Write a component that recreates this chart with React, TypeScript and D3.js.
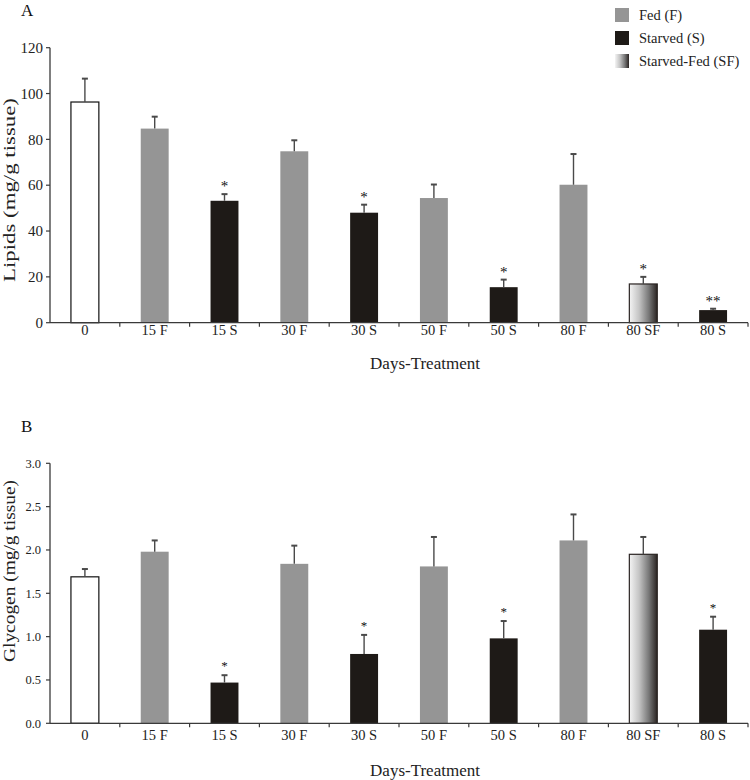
import React from 'react';
import * as d3 from 'd3';

const categories = ['0', '15 F', '15 S', '30 F', '30 S', '50 F', '50 S', '80 F', '80 SF', '80 S'];
const groups = ['control', 'fed', 'starved', 'fed', 'starved', 'fed', 'starved', 'fed', 'sf', 'starved'];

const lipidMeans = [96.3, 84.7, 53.2, 74.8, 48.0, 54.4, 15.5, 60.2, 16.9, 5.5];
const lipidErr = [10.2, 5.2, 2.9, 4.8, 3.5, 5.9, 3.3, 13.4, 3.1, 0.6];
const lipidSig = ['', '', '*', '', '*', '', '*', '', '*', '**'];
const lipidTicks = [0, 20, 40, 60, 80, 100, 120];

const glyMeans = [1.69, 1.98, 0.47, 1.84, 0.8, 1.81, 0.98, 2.11, 1.95, 1.08];
const glyErr = [0.09, 0.13, 0.085, 0.21, 0.22, 0.34, 0.2, 0.3, 0.2, 0.15];
const glySig = ['', '', '*', '', '*', '', '*', '', '', '*'];
const glyTicks = [0, 0.5, 1.0, 1.5, 2.0, 2.5, 3.0];

const legendLabels = ['Fed (F)', 'Starved (S)', 'Starved-Fed (SF)'];
const legendGroups = ['fed', 'starved', 'sf'];

const FONT = '"Liberation Serif", "Times New Roman", serif';
const FED = '#959595';
const STARVED = '#1e1a17';
const AXIS = '#3a3a3a';
const ERR = '#4a4a4a';

function fillFor(g: string) {
  if (g === 'fed') return FED;
  if (g === 'starved') return STARVED;
  if (g === 'sf') return 'url(#sfGrad)';
  return '#ffffff';
}

type PanelProps = {
  means: number[];
  errs: number[];
  sig: string[];
  ticks: number[];
  domainMax: number;
  yTop: number;
  yBottom: number;
  tickFmt: (v: number) => string;
  tickFont: number;
  tickX: number;
  yTitle: string;
  yTitleCenter: number;
  yTitleLen: number;
  catBaseline: number;
  xTitleBaseline: number;
  starFont: number;
  starGap: number;
  letter: string;
  letterBaseline: number;
};

function Panel(p: PanelProps) {
  const x = d3.scaleBand<string>().domain(categories).range([50, 748]).paddingInner(0.6).paddingOuter(0.3);
  const y = d3.scaleLinear().domain([0, p.domainMax]).range([p.yBottom, p.yTop]);
  const step = x.step();
  const bw = x.bandwidth();
  const x0 = x.range()[0];
  const boundaries = d3.range(1, categories.length + 1).map((k) => x0 + k * step);
  return (
    <g>
      <text x={21} y={p.letterBaseline} fontFamily={FONT} fontSize={17} fill="#111">{p.letter}</text>
      {categories.map((c, i) => {
        const g = groups[i];
        const top = y(p.means[i]);
        const stroke = g === 'control' ? '#111' : g === 'sf' ? '#2a2422' : 'none';
        return (
          <rect key={c} x={x(c)} y={top} width={bw} height={y(0) - top} fill={fillFor(g)}
            stroke={stroke} strokeWidth={g === 'control' || g === 'sf' ? 1.2 : 0} />
        );
      })}
      {categories.map((c, i) => {
        const cx = (x(c) as number) + bw / 2;
        const top = y(p.means[i]);
        const et = y(p.means[i] + p.errs[i]);
        return (
          <g key={'e' + c}>
            <line x1={cx} x2={cx} y1={top} y2={et} stroke={ERR} strokeWidth={1.4} />
            <line x1={cx - 3} x2={cx + 3} y1={et} y2={et} stroke={ERR} strokeWidth={2} />
            {p.sig[i] ? (
              <text x={cx} y={et - p.starGap} textAnchor="middle" fontFamily={FONT} fontSize={p.starFont} fill="#111">{p.sig[i]}</text>
            ) : null}
          </g>
        );
      })}
      <line x1={50} x2={50} y1={p.yTop} y2={p.yBottom} stroke={AXIS} strokeWidth={1.3} />
      {p.ticks.map((t) => (
        <g key={'t' + t}>
          <line x1={46} x2={50} y1={y(t)} y2={y(t)} stroke={AXIS} strokeWidth={1.2} />
          <text x={p.tickX} y={y(t)} dy="0.35em" textAnchor="end" fontFamily={FONT} fontSize={p.tickFont} fill="#222">{p.tickFmt(t)}</text>
        </g>
      ))}
      <line x1={50} x2={748} y1={p.yBottom} y2={p.yBottom} stroke={AXIS} strokeWidth={1.3} />
      {boundaries.map((b, k) => (
        <line key={'b' + k} x1={b} x2={b} y1={p.yBottom} y2={p.yBottom + 4} stroke={AXIS} strokeWidth={1.2} />
      ))}
      {categories.map((c) => (
        <text key={'l' + c} x={(x(c) as number) + bw / 2} y={p.catBaseline} textAnchor="middle" fontFamily={FONT} fontSize={14.5} fill="#222">{c}</text>
      ))}
      <text x={425} y={p.xTitleBaseline} textAnchor="middle" fontFamily={FONT} fontSize={17} fill="#222">Days-Treatment</text>
      <text transform={`translate(15,${p.yTitleCenter}) rotate(-90)`} textAnchor="middle" fontFamily={FONT} fontSize={17}
        fill="#222" textLength={p.yTitleLen} lengthAdjust="spacingAndGlyphs">{p.yTitle}</text>
    </g>
  );
}

export default function App() {
  return (
    <svg width={750} height={780} style={{ position: 'absolute', left: 0, top: 0, background: '#fff' }}>
      <defs>
        <linearGradient id="sfGrad" x1="0" x2="1" y1="0" y2="0">
          <stop offset="0%" stopColor="#f4f4f4" />
          <stop offset="35%" stopColor="#c4c4c4" />
          <stop offset="70%" stopColor="#777" />
          <stop offset="100%" stopColor="#2a2422" />
        </linearGradient>
      </defs>
      <rect x={0} y={0} width={750} height={780} fill="#fff" />
      <Panel means={lipidMeans} errs={lipidErr} sig={lipidSig} ticks={lipidTicks} domainMax={120}
        yTop={47.7} yBottom={322.7} tickFmt={(v) => String(v)} tickFont={15} tickX={43}
        yTitle="Lipids (mg/g tissue)" yTitleCenter={190} yTitleLen={184}
        catBaseline={335} xTitleBaseline={369} starFont={15} starGap={3} letter="A" letterBaseline={16} />
      <Panel means={glyMeans} errs={glyErr} sig={glySig} ticks={glyTicks} domainMax={3}
        yTop={463.3} yBottom={723.3} tickFmt={(v) => v.toFixed(1)} tickFont={12.5} tickX={41}
        yTitle="Glycogen (mg/g tissue)" yTitleCenter={571} yTitleLen={182}
        catBaseline={740} xTitleBaseline={776} starFont={13} starGap={5} letter="B" letterBaseline={432} />
      {legendLabels.map((l, i) => (
        <g key={l}>
          <rect x={615} y={8 + i * 23} width={14} height={14} fill={fillFor(legendGroups[i])} />
          <text x={639} y={20 + i * 23} fontFamily={FONT} fontSize={14.5} fill="#222">{l}</text>
        </g>
      ))}
    </svg>
  );
}
